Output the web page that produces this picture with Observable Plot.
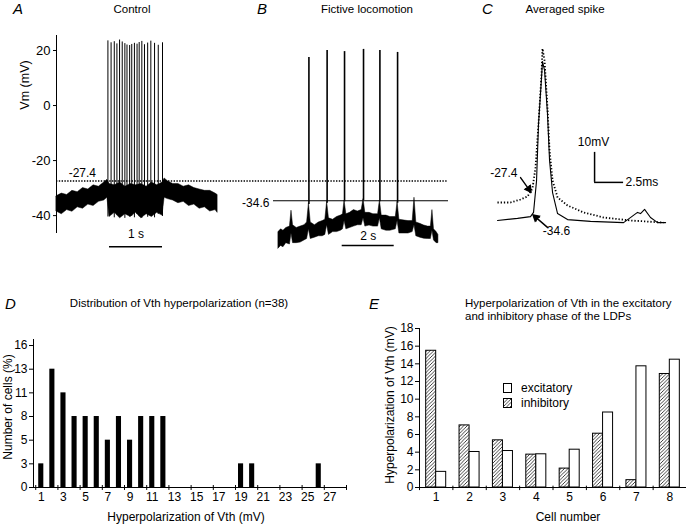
<!DOCTYPE html>
<html><head><meta charset="utf-8">
<script src="https://cdn.jsdelivr.net/npm/d3@7"></script>
<script src="https://cdn.jsdelivr.net/npm/@observablehq/plot@0.6"></script>
<style>
body{margin:0;background:#fff}
#fig{position:relative;width:686px;height:524px;overflow:hidden;font-family:"Liberation Sans",Arial,sans-serif;color:#000;background:#fff}
</style></head><body><div id="fig"></div>
<script>
// ---------------- DATA ----------------
// Panel A: control trace (time s, envelope of noisy membrane potential, mV)
const controlT  = [0.00,0.10,0.20,0.30,0.40,0.50,0.60,0.70,0.80,0.90,0.96,1.00,1.10,1.20,1.30,1.40,1.50,1.60,1.70,1.80,1.90,2.00,2.04,2.10,2.20,2.30,2.40,2.50,2.60,2.70,2.80,2.90,3.00,3.04];
const controlLo = [-38.5,-39.5,-38.0,-38.6,-37.0,-37.5,-36.0,-36.5,-35.0,-34.5,-33.5,-40.5,-39.0,-41.0,-39.5,-40.5,-39.0,-41.0,-39.5,-40.5,-39.0,-40.0,-33.5,-34.0,-34.5,-35.5,-35.0,-36.5,-36.0,-37.5,-37.0,-38.5,-38.0,-39.0];
const controlHi = [-33.0,-32.0,-32.5,-31.0,-31.5,-30.0,-30.5,-29.0,-29.5,-28.0,-27.0,-28.5,-29.0,-28.0,-29.5,-28.5,-29.0,-28.5,-29.5,-28.0,-29.0,-28.0,-26.5,-27.5,-28.5,-28.5,-29.5,-29.0,-30.0,-30.5,-31.0,-31.0,-32.0,-32.5];
const controlSpikeT    = [0.97,1.03,1.09,1.14,1.19,1.24,1.29,1.33,1.38,1.42,1.47,1.52,1.56,1.61,1.66,1.72,1.78,1.85,1.92,2.00];
const controlSpikePeak = [23.5,22.8,23.2,22.4,23.8,23.1,22.5,22.0,21.8,22.2,22.6,22.3,22.9,23.3,22.1,22.7,23.4,22.6,21.9,22.8];
const controlSpikeBase = [-40.5,-39.5,-40.8,-39.8,-40.5,-40.0,-41.0,-39.5,-40.5,-40.2,-40.8,-39.6,-40.4,-41.0,-39.8,-40.6,-40.0,-40.8,-39.5,-40.3];
const thresholdControl = -27.4;

// Panel B: fictive locomotion trace
const locoT  = [0.00,0.10,0.19,0.30,0.44,0.50,0.56,0.70,0.85,1.00,1.10,1.17,1.24,1.40,1.55,1.70,1.80,1.87,1.94,2.10,2.25,2.40,2.48,2.54,2.61,2.75,2.90,3.05,3.20,3.27,3.34,3.50,3.65,3.83,3.90,3.97,4.15,4.30,4.51,4.58,4.65,4.85,5.00,5.16,5.23,5.30,5.45,5.60,5.75,5.86,5.92,5.98,6.08,6.15];
const locoLo = [-52.0,-51.0,-51.5,-50.0,-50.5,-46.5,-50.0,-50.0,-49.8,-49.0,-48.5,-45.0,-48.5,-48.0,-47.5,-47.5,-47.0,-43.5,-47.0,-46.0,-46.0,-45.5,-45.0,-42.0,-45.0,-44.5,-44.0,-43.5,-43.5,-41.0,-44.0,-43.6,-44.0,-44.0,-41.0,-45.0,-45.5,-45.5,-45.0,-42.0,-46.5,-46.5,-46.5,-46.0,-43.5,-47.5,-48.0,-48.4,-48.5,-48.5,-45.5,-49.0,-50.0,-50.0];
const locoHi = [-46.0,-45.0,-45.5,-44.5,-44.0,-38.2,-43.5,-44.5,-44.0,-43.5,-42.5,-35.5,-42.5,-43.5,-42.5,-42.0,-41.5,-35.0,-41.0,-41.5,-40.5,-40.0,-39.5,-34.5,-39.5,-39.0,-38.0,-38.5,-38.0,-34.0,-39.0,-39.0,-39.5,-39.5,-34.5,-40.0,-40.0,-40.5,-40.5,-35.0,-41.5,-41.8,-42.0,-42.0,-33.5,-42.5,-43.0,-43.6,-44.0,-44.0,-38.0,-45.0,-46.0,-47.0];
const locoSpikeT    = [1.17,1.87,2.54,3.27,3.90,4.58];
const locoSpikePeak = [17.5,20.0,19.6,20.4,20.0,19.3];
const locoSpikeBase = [-36.0,-35.5,-35.0,-34.5,-35.0,-35.5];
const thresholdLoco = -34.6;

// Panel C: averaged spikes (time ms, mV)
const ctrlSpikeT = [-0.09,1.03,1.90,2.50,2.93,3.19,3.45,3.71,3.79,3.97,4.22,4.40,4.66,5.09,5.95,7.33,9.05,11.38,14.22];
const ctrlSpikeV = [-30.6,-30.6,-29.6,-28.6,-25.9,-18.9,-4.3,12.4,20.7,16.7,1.1,-13.3,-23.3,-28.9,-31.6,-33.9,-35.6,-36.6,-37.3];
const locoAvgT = [-0.09,1.64,2.76,3.02,3.28,3.45,3.71,3.79,3.97,4.22,4.40,4.66,5.09,5.95,7.93,10.78,11.98,12.24,12.59,13.10,13.71,14.40];
const locoAvgV = [-36.6,-35.9,-35.3,-33.9,-23.3,-4.3,11.1,16.4,13.4,-0.9,-16.6,-27.3,-34.3,-36.3,-36.9,-37.3,-33.9,-34.3,-32.9,-35.6,-37.3,-37.3];

// Panel D: distribution of Vth hyperpolarization (n = 38)
const vthBins   = [1,2,3,4,5,6,7,8,9,10,11,12,19,20,26];
const vthCounts = [1,5,4,3,3,3,2,3,2,3,3,3,1,1,1];
const nCells = 38;
const dXTicks = [1,3,5,7,9,11,13,15,17,19,21,23,25,27];

// Panel E: hyperpolarization of Vth per cell
const cellNumbers = [1,2,3,4,5,6,7,8];
const inhibitory  = [15.48,7.03,5.34,3.72,2.14,6.09,0.83,12.85];
const excitatory  = [1.77,4.02,4.13,3.76,4.28,8.49,13.72,14.47];
const eYTicks = [0,2,4,6,8,10,12,14,16,18];
const vmTicks = [-40,-20,0,20];

// ---------------- LAYOUT ----------------
const FONT = "'Liberation Sans',Arial,sans-serif";
const fig = document.getElementById("fig");
function st(left, top, size) {
  return `position:absolute;left:${left}px;top:${top}px;background:transparent;overflow:visible;font-family:${FONT};font-size:${size}px;color:#000;`;
}
const plain = d => String(d);

const controlData = controlT.map((t,i)=>({t, lo: controlLo[i], hi: controlHi[i]}));
const controlSpikes = controlSpikeT.map((t,i)=>({t, peak: controlSpikePeak[i], base: controlSpikeBase[i]}));
const locoData = locoT.map((t,i)=>({t, lo: locoLo[i], hi: locoHi[i]}));
const locoSpikes = locoSpikeT.map((t,i)=>({t, peak: locoSpikePeak[i], base: locoSpikeBase[i]}));
const ctrlAvg = ctrlSpikeT.map((t,i)=>({t, v: ctrlSpikeV[i]}));
const locoAvg = locoAvgT.map((t,i)=>({t, v: locoAvgV[i]}));
const dData = vthBins.map((b,i)=>({bin: b, pct: vthCounts[i] / nCells * 100}));
const eData = cellNumbers.map((c,i)=>({cell: c, inh: inhibitory[i], exc: excitatory[i]}));

// Panel A
const plotA = Plot.plot({
  width: 460, height: 250, marginLeft: 56, marginRight: 12, marginTop: 35, marginBottom: 17,
  style: st(0, 0, 13),
  x: {domain: [0, 7.396], axis: null},
  y: {domain: [-46.5, 25.45]},
  marks: [
    Plot.ruleX([0], {strokeWidth: 1}),
    Plot.axisY({ticks: vmTicks, tickFormat: plain, tickSize: 3, tickPadding: 3, label: null}),
    Plot.areaY(controlData, {x: "t", y1: "lo", y2: "hi", fill: "black", stroke: "black", strokeWidth: 0.5}),
    Plot.ruleX(controlSpikes, {x: "t", y1: "base", y2: "peak", strokeWidth: 1}),
    Plot.ruleY([thresholdControl], {strokeDasharray: "1.4,1.4", strokeWidth: 1.4}),
    Plot.text([thresholdControl], {x: 0.23, y: d => d + 2.7, text: d => d.toFixed(1), textAnchor: "start", fontSize: 12}),
    Plot.ruleY([{a: 1, b: 2, v: -51.3}], {x1: "a", x2: "b", y: "v", strokeWidth: 1.5}),
    Plot.text(["1 s"], {x: 1.5, y: -46.8, text: d => d, fontSize: 12})
  ]
});
fig.appendChild(plotA);

// Panel B
const plotB = Plot.plot({
  width: 230, height: 250, marginLeft: 43, marginRight: 12, marginTop: 35, marginBottom: 17,
  style: st(230, 0, 12),
  x: {domain: [-0.192, 6.538], axis: null},
  y: {domain: [-46.5, 25.45], axis: null},
  marks: [
    Plot.areaY(locoData, {x: "t", y1: "lo", y2: "hi", fill: "black", stroke: "black", strokeWidth: 0.5}),
    Plot.ruleX(locoSpikes, {x: "t", y1: "base", y2: "peak", strokeWidth: 1.6}),
    Plot.ruleY([thresholdLoco], {strokeWidth: 1.1}),
    Plot.text([thresholdLoco], {x: -0.35, y: d => d - 1, text: d => d.toFixed(1), textAnchor: "end", fontSize: 12}),
    Plot.ruleY([{a: 2.45, b: 4.45, v: -50.9}], {x1: "a", x2: "b", y: "v", strokeWidth: 1.5}),
    Plot.text(["2 s"], {x: 3.45, y: -47.3, text: d => d, fontSize: 12})
  ]
});
fig.appendChild(plotB);

// Panel C
const plotC = Plot.plot({
  width: 226, height: 250, marginLeft: 38, marginRight: 10, marginTop: 30, marginBottom: 10,
  style: st(460, 0, 12),
  x: {domain: [0, 15.34], axis: null},
  y: {domain: [-43.27, 26.73], axis: null},
  marks: [
    Plot.line(locoAvg, {x: "t", y: "v", strokeWidth: 1.1}),
    Plot.line(ctrlAvg, {x: "t", y: "v", strokeWidth: 1.8, strokeDasharray: "1.3,1.9", strokeLinecap: "butt"}),
    Plot.ruleX([{t: 8.28, a: -23.9, b: -13.9}], {x: "t", y1: "a", y2: "b", strokeWidth: 1.5}),
    Plot.ruleY([{a: 8.28, b: 10.78, v: -23.9}], {x1: "a", x2: "b", y: "v", strokeWidth: 1.5}),
    Plot.text(["10mV"], {x: 8.19, y: -10.4, text: d => d, fontSize: 12}),
    Plot.text(["2.5ms"], {x: 10.95, y: -23.9, text: d => d, textAnchor: "start", fontSize: 12}),
    Plot.arrow([{x1: 1.9, y1: -22.3, x2: 2.76, y2: -27.0}], {x1: "x1", y1: "y1", x2: "x2", y2: "y2", strokeWidth: 1.4, headLength: 7, headAngle: 50}),
    Plot.arrow([{x1: 4.22, y1: -38.9, x2: 3.02, y2: -34.9}], {x1: "x1", y1: "y1", x2: "x2", y2: "y2", strokeWidth: 1.4, headLength: 7, headAngle: 50}),
    Plot.dot([{t: 2.61, v: -26.1, a: 144.5}, {t: 3.22, v: -35.57, a: -49.4}], {x: "t", y: "v", rotate: "a", symbol: "triangle", r: 3.3, fill: "black", stroke: "none"}),
    Plot.text([thresholdControl], {x: 1.64, y: -20.9, text: d => d.toFixed(1), textAnchor: "end", fontSize: 12}),
    Plot.text([thresholdLoco], {x: 5.0, y: -40.1, text: d => d.toFixed(1), fontSize: 12})
  ]
});
fig.appendChild(plotC);

// Panel D
const boundD = [0.5,2.5,4.5,6.5,8.5,10.5,12.5,14.5,16.5,18.5,20.5,22.5,24.5,26.5,28.5];
const plotD = Plot.plot({
  width: 350, height: 244, marginLeft: 33, marginRight: 4, marginTop: 59, marginBottom: 37,
  style: st(0, 280, 12),
  x: {domain: [0.3, 28.5]},
  y: {domain: [0, 16.46]},
  marks: [
    Plot.rectY(dData, {x1: d => d.bin - 0.23, x2: d => d.bin + 0.23, y: "pct", fill: "black"}),
    Plot.ruleX([0.3]),
    Plot.ruleY([0]),
    Plot.ruleX(boundD, {y1: 0.22, y2: -0.33}),
    Plot.axisY({ticks: d3.range(0, 7).map(k => k / nCells * 100), tickFormat: d => String(Math.round(d)), tickSize: 4, tickPadding: 2, label: null}),
    Plot.axisX({ticks: dXTicks, tickFormat: plain, tickSize: 0, tickPadding: 5, label: null})
  ]
});
fig.appendChild(plotD);

// Panel E
const boundE = [0.5,1.5,2.5,3.5,4.5,5.5,6.5,7.5,8.5];
const plotE = Plot.plot({
  width: 346, height: 244, marginLeft: 79, marginRight: 0, marginTop: 48, marginBottom: 37,
  style: st(340, 280, 12),
  x: {domain: [0.5, 8.5]},
  y: {domain: [0, 18]},
  marks: [
    Plot.rectY(eData, {x1: d => d.cell - 0.3, x2: d => d.cell, y: "inh", fill: "url(#hatch)", stroke: "black", strokeWidth: 1}),
    Plot.rectY(eData, {x1: d => d.cell, x2: d => d.cell + 0.3, y: "exc", fill: "white", stroke: "black", strokeWidth: 1}),
    Plot.ruleX([0.5]),
    Plot.ruleY([0]),
    Plot.ruleX(boundE, {y1: 0.15, y2: -0.35}),
    Plot.axisY({ticks: eYTicks, tickFormat: plain, tickSize: 4, tickPadding: 2, label: null}),
    Plot.axisX({ticks: cellNumbers, tickFormat: plain, tickSize: 0, tickPadding: 5, label: null})
  ]
});
fig.appendChild(plotE);

// Overlay: panel letters, titles, axis titles, legend
const ov = d3.select(fig).append("svg")
  .attr("width", 686).attr("height", 524)
  .style("position", "absolute").style("left", "0px").style("top", "0px")
  .style("font-family", FONT);
const pat = ov.append("defs").append("pattern").attr("id", "hatch")
  .attr("patternUnits", "userSpaceOnUse").attr("width", 3.5).attr("height", 3.5);
pat.append("rect").attr("width", 3.5).attr("height", 3.5).attr("fill", "white");
pat.append("path").attr("d", "M-1,1 l2,-2 M0,3.5 l3.5,-3.5 M2.5,4.5 l2,-2").attr("stroke", "black").attr("stroke-width", 0.75);

function txt(x, y, s, o = {}) {
  const t = ov.append("text").attr("x", x).attr("y", y).text(s)
    .attr("font-size", o.size || 12).attr("fill", "black")
    .attr("text-anchor", o.anchor || "start");
  if (o.italic) t.attr("font-style", "italic");
  if (o.rotate) t.attr("transform", `rotate(${o.rotate},${x},${y})`).attr("dominant-baseline", "central");
  return t;
}
txt(13, 14, "A", {size: 15, italic: true});
txt(132, 13, "Control", {size: 11.5, anchor: "middle"});
txt(257, 14, "B", {size: 15, italic: true});
txt(367, 13, "Fictive locomotion", {size: 11.5, anchor: "middle"});
txt(482, 14, "C", {size: 15, italic: true});
txt(565, 13, "Averaged spike", {size: 11.5, anchor: "middle"});
txt(25, 85, "Vm (mV)", {size: 12.5, anchor: "middle", rotate: -90});

txt(5, 309, "D", {size: 15, italic: true});
txt(179, 307, "Distribution of Vth hyperpolarization (n=38)", {size: 11.5, anchor: "middle"});
txt(8, 407, "Number of cells (%)", {size: 12, anchor: "middle", rotate: -90});
txt(186, 521, "Hyperpolarization of Vth (mV)", {size: 12, anchor: "middle"});

txt(369, 309, "E", {size: 15, italic: true});
txt(465, 307, "Hyperpolarization of Vth in the excitatory", {size: 11.5});
txt(465, 320, "and inhibitory phase of the LDPs", {size: 11.5});
txt(390, 405, "Hyperpolarization of Vth (mV)", {size: 12, anchor: "middle", rotate: -90});
txt(568, 521, "Cell number", {size: 12, anchor: "middle"});

// legend for panel E
ov.append("rect").attr("x", 503.5).attr("y", 383.5).attr("width", 8).attr("height", 9).attr("fill", "white").attr("stroke", "black");
ov.append("rect").attr("x", 503.5).attr("y", 398.5).attr("width", 8).attr("height", 9).attr("fill", "url(#hatch)").attr("stroke", "black");
txt(521, 392, "excitatory", {size: 12});
txt(521, 407, "inhibitory", {size: 12});
</script></body></html>
